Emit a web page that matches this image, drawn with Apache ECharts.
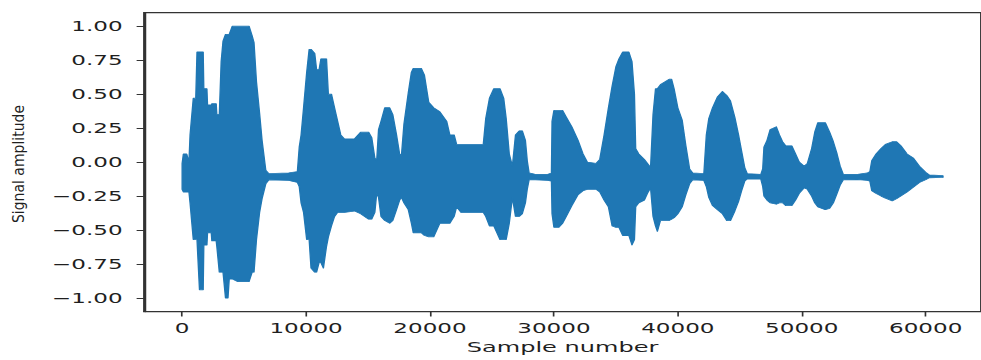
<!DOCTYPE html>
<html>
<head>
<meta charset="utf-8">
<script src="https://cdn.jsdelivr.net/npm/echarts@6.0.0/dist/echarts.min.js"></script>
<style>
  html, body { margin: 0; padding: 0; background: #fff; }
  #wrap { width: 981px; height: 360px; overflow: hidden; position: relative; background: #fff; }
  #chart { width: 591px; height: 360px; transform: scaleX(1.66); transform-origin: 0 0; }
</style>
</head>
<body>
<div id="wrap"><div id="chart"></div></div>
<script>
// ---- Data: waveform envelope (sample index, upper, lower) ----
const sampleIdx = [
  0, 100, 370, 550, 640, 900, 1100, 1200, 1400, 1700, 1750, 2000, 2050, 2350, 2400, 2750, 2800, 3000, 3150, 3300,
  3500, 3700, 3800, 4050, 4500, 5400, 5650, 5800, 6000, 6250, 6450, 6750, 7000,
  8600, 9300,
  9450, 9600, 9800, 10050, 10250, 10400, 10700, 10850, 11050, 11200, 11400, 11650, 11800, 12050, 12300, 12550,
  12800, 13100, 13900, 14400, 15050, 15300, 15550, 15700, 15850, 16050, 16350, 16750, 17000, 17300, 17550, 17700,
  17900, 18250, 18500, 18650, 19300, 19550, 19900, 20300, 20800, 21350, 21600, 21950, 22150, 22500, 24300, 24500,
  24800, 25150, 25650, 25950, 26150, 26400, 26650,
  26900, 27200, 27450, 27700, 27850, 28000, 28500, 29500, 29800, 29850, 30000, 30400, 30700, 31000, 31450, 31950,
  32350, 32700, 33400, 33700, 34050, 34400, 34700, 35000, 35250, 35550, 36050, 36300, 36500, 36600, 36850, 37300,
  37550, 37800, 38000, 38200, 38350, 38600, 39300, 39500, 39700, 40000, 40350, 40650, 40950, 41200, 42100, 42300,
  42500, 42800, 43200, 43600, 43950, 44250, 44600, 44900, 45150, 45400, 45600,
  46700, 46850, 46950, 47200, 47450, 47950, 48200, 48450, 48700, 49200, 49500, 49800, 50200, 50450, 50800, 51050,
  51300, 51900, 52250, 52550, 52850, 53100, 53350, 54500, 55300, 55500, 55650, 56000, 56400, 56750, 57300, 57650,
  58000, 58500, 59000, 59500, 60000, 60300, 61400
];
const upperEnv = [
  -0.01, 0.06, 0.06, 0.00, 0.20, 0.47, 0.47, 0.81, 0.81, 0.81, 0.54, 0.54, 0.42, 0.42, 0.43, 0.43, 0.35, 0.35, 0.74, 0.89,
  0.94, 0.94, 0.94, 1.00, 1.00, 1.00, 0.93, 0.88, 0.59, 0.36, 0.16, -0.06, -0.085,
  -0.08, -0.07,
  0.11, 0.20, 0.40, 0.66, 0.83, 0.83, 0.80, 0.68, 0.68, 0.76, 0.76, 0.76, 0.50, 0.50, 0.40, 0.30,
  0.20, 0.17, 0.17, 0.22, 0.22, 0.18, 0.03, 0.01, 0.24, 0.30, 0.40, 0.40, 0.35, 0.20, 0.06, 0.05,
  0.28, 0.51, 0.66, 0.69, 0.69, 0.64, 0.44, 0.40, 0.37, 0.30, 0.20, 0.20, 0.13, 0.13, 0.13, 0.32,
  0.47, 0.54, 0.54, 0.47, 0.32, 0.06, -0.03,
  0.20, 0.23, 0.23, 0.16, 0.01, -0.08, -0.09, -0.09, -0.08, 0.30, 0.38, 0.38, 0.38, 0.33, 0.26, 0.16,
  0.06, 0.00, -0.01, 0.02, 0.20, 0.40, 0.56, 0.70, 0.76, 0.81, 0.81, 0.74, 0.50, 0.10, 0.06, 0.02,
  -0.01, -0.04, 0.35, 0.54, 0.54, 0.57, 0.61, 0.61, 0.54, 0.40, 0.31, 0.12, -0.05, -0.08, -0.085, 0.20,
  0.32, 0.40, 0.48, 0.52, 0.49, 0.45, 0.33, 0.20, 0.08, -0.04, -0.085,
  -0.09, -0.05, 0.11, 0.16, 0.24, 0.26, 0.20, 0.15, 0.12, 0.12, 0.06, 0.00, -0.03, -0.01, 0.10, 0.22,
  0.29, 0.29, 0.22, 0.15, 0.06, -0.03, -0.09, -0.09, -0.08, -0.07, 0.01, 0.06, 0.10, 0.13, 0.15, 0.15,
  0.12, 0.06, 0.03, -0.03, -0.075, -0.095, -0.10
];
const lowerEnv = [
  -0.20, -0.22, -0.22, -0.22, -0.30, -0.57, -0.57, -0.57, -0.94, -0.94, -0.61, -0.61, -0.52, -0.52, -0.58, -0.58, -0.62, -0.81, -0.81, -0.81,
  -1.00, -1.00, -0.86, -0.86, -0.88, -0.88, -0.81, -0.81, -0.57, -0.37, -0.27, -0.16, -0.13,
  -0.135, -0.15,
  -0.18, -0.30, -0.37, -0.57, -0.57, -0.78, -0.81, -0.81, -0.74, -0.74, -0.78, -0.62, -0.55, -0.47, -0.40, -0.37,
  -0.37, -0.37, -0.36, -0.38, -0.42, -0.42, -0.37, -0.23, -0.26, -0.40, -0.43, -0.45, -0.43, -0.35, -0.28, -0.26,
  -0.30, -0.35, -0.45, -0.52, -0.52, -0.54, -0.55, -0.55, -0.45, -0.45, -0.45, -0.40, -0.33, -0.37, -0.37, -0.40,
  -0.47, -0.47, -0.57, -0.57, -0.57, -0.45, -0.26,
  -0.40, -0.40, -0.38, -0.30, -0.20, -0.13, -0.13, -0.135, -0.14, -0.38, -0.48, -0.48, -0.45, -0.40, -0.32, -0.24,
  -0.21, -0.20, -0.20, -0.22, -0.28, -0.33, -0.47, -0.48, -0.48, -0.54, -0.54, -0.61, -0.57, -0.33, -0.30, -0.28,
  -0.23, -0.19, -0.40, -0.47, -0.51, -0.43, -0.43, -0.42, -0.41, -0.38, -0.33, -0.24, -0.16, -0.13, -0.135, -0.18,
  -0.26, -0.32, -0.35, -0.38, -0.43, -0.43, -0.36, -0.29, -0.21, -0.14, -0.125,
  -0.125, -0.18, -0.25, -0.28, -0.30, -0.31, -0.30, -0.30, -0.32, -0.32, -0.28, -0.23, -0.19, -0.20, -0.25, -0.30,
  -0.33, -0.35, -0.34, -0.30, -0.23, -0.17, -0.13, -0.128, -0.135, -0.14, -0.21, -0.23, -0.25, -0.265, -0.285, -0.27,
  -0.25, -0.22, -0.185, -0.15, -0.13, -0.115, -0.113
];
const xTicks = [0, 10000, 20000, 30000, 40000, 50000, 60000];
const yTicks = [-1, -0.75, -0.5, -0.25, 0, 0.25, 0.5, 0.75, 1];
const xName = 'Sample number';
const yName = 'Signal amplitude';

if (sampleIdx.length !== upperEnv.length || sampleIdx.length !== lowerEnv.length) {
  console.error('length mismatch', sampleIdx.length, upperEnv.length, lowerEnv.length);
}

const K = 1.66; // horizontal stretch of the reference image
const FONT = 'DejaVu Sans';
const INK = '#1f1f1f';
const SPINE = '#333333';
const BLUE = '#1f77b4';

const fmtY = v => (v < 0 ? '\u2212' : '') + Math.abs(v).toFixed(2);

const chart = echarts.init(document.getElementById('chart'), null, { renderer: 'svg' });
chart.setOption({
  animation: false,
  grid: {
    left: 86.8, top: 12.6, width: 512.6, height: 304.1,
    show: true, borderColor: SPINE, borderWidth: 1.2, backgroundColor: 'transparent'
  },
  xAxis: {
    type: 'value', min: -3070, max: 64470,
    axisLine: { show: true, onZero: false, lineStyle: { color: SPINE, width: 1.2 } },
    axisTick: { show: true, length: 4.9, customValues: xTicks, lineStyle: { color: SPINE, width: 1 } },
    axisLabel: { customValues: xTicks, margin: 9.5, fontFamily: FONT, fontSize: 13.9, color: INK, formatter: v => String(v) },
    splitLine: { show: false },
    name: xName, nameLocation: 'middle', nameGap: 28,
    nameTextStyle: { fontFamily: FONT, fontSize: 14.5, color: INK }
  },
  yAxis: {
    type: 'value', min: -1.1, max: 1.1,
    axisLine: { show: true, onZero: false, lineStyle: { color: SPINE, width: 1.2 } },
    axisTick: { show: true, length: 4.5, customValues: yTicks, lineStyle: { color: SPINE, width: 1 } },
    axisLabel: { customValues: yTicks, margin: 12.9, fontFamily: FONT, fontSize: 13.9, color: INK, formatter: fmtY },
    splitLine: { show: false }
  },
  graphic: [{
    type: 'text', x: 11.4, y: 164, rotation: Math.PI / 2, scaleY: 1.12 / K,
    style: { text: yName, fontFamily: FONT, fontSize: 14, fill: INK, align: 'center', verticalAlign: 'middle' }
  }],
  series: [{
    type: 'custom',
    name: 'signal',
    silent: true,
    clip: true,
    data: sampleIdx.map((s, i) => [s, upperEnv[i], lowerEnv[i]]),
    encode: { x: 0, y: [1, 2] },
    renderItem: function (params, api) {
      if (params.dataIndex !== 0) return null;
      const topPts = sampleIdx.map((s, i) => api.coord([s, upperEnv[i]]));
      const botPts = sampleIdx.map((s, i) => api.coord([s, lowerEnv[i]])).reverse();
      return {
        type: 'polygon',
        shape: { points: topPts.concat(botPts) },
        style: { fill: BLUE, stroke: BLUE, lineWidth: 0.8, lineJoin: 'round' }
      };
    }
  }]
});
</script>
</body>
</html>
